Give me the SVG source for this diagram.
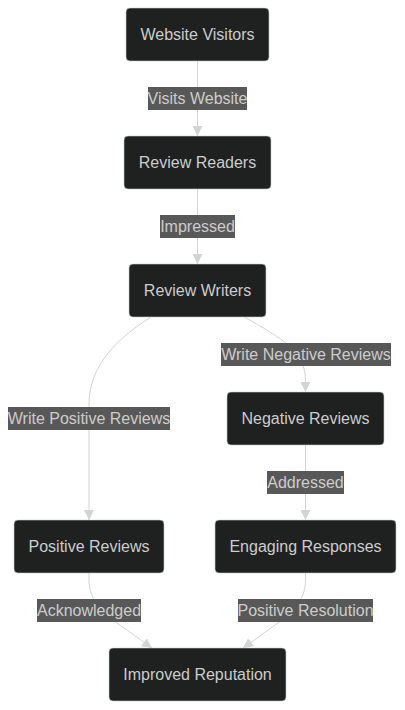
<svg xmlns="http://www.w3.org/2000/svg" width="405" height="710" viewBox="0 0 405 710">
<defs>
<style>
.node rect{fill:#1f2020;stroke:#cccccc;stroke-width:1;stroke-opacity:0.6}
.node text{fill:#cccccc;font-family:"Liberation Sans",Arial,sans-serif;font-size:16px;text-anchor:middle;dominant-baseline:central}
.edge{fill:none;stroke:#d3d3d3;stroke-width:1;marker-end:url(#arr)}
.lbl rect{fill:#585858}
.lbl text{fill:#cccccc;font-family:"Liberation Sans",Arial,sans-serif;font-size:16px;text-anchor:middle;dominant-baseline:central}
</style>
<marker id="arr" viewBox="0 0 10 10" refX="10" refY="5" markerWidth="10" markerHeight="10" markerUnits="userSpaceOnUse" orient="auto">
<path d="M0,0 L10,5 L0,10 Z" fill="#d3d3d3"/>
</marker>
</defs>
<rect width="405" height="710" fill="#ffffff"/>
<g id="connectors">
<path class="edge" d="M197.5,61 L197.5,136"/>
<path class="edge" d="M197.5,189 L197.5,264"/>
<path class="edge" d="M151,317 C110,343 89,370 89,405 L89,520"/>
<path class="edge" d="M244,317 C282,338 305.5,352 305.5,380 L305.5,392"/>
<path class="edge" d="M305.5,445 L305.5,520"/>
<path class="edge" d="M89,573 L89,580 C89,598 100,612 120,625 L152,648"/>
<path class="edge" d="M305.5,573 L305.5,580 C305.5,598 295,612 275,625 L243,648"/>
</g>
<g id="edge-labels">
<g class="lbl" id="l1"><rect x="148" y="87" width="99" height="23"/><text x="197.5" y="98.5">Visits Website</text></g>
<g class="lbl" id="l2"><rect x="160" y="215" width="75" height="23"/><text x="197.5" y="226.5">Impressed</text></g>
<g class="lbl" id="l3"><rect x="221" y="343" width="170" height="23"/><text x="306" y="354.5">Write Negative Reviews</text></g>
<g class="lbl" id="l4"><rect x="8" y="407" width="162" height="23"/><text x="89" y="418.5">Write Positive Reviews</text></g>
<g class="lbl" id="l5"><rect x="267" y="471" width="77" height="23"/><text x="305.5" y="482.5">Addressed</text></g>
<g class="lbl" id="l6"><rect x="37" y="599" width="104" height="23"/><text x="89" y="610.5">Acknowledged</text></g>
<g class="lbl" id="l7"><rect x="238" y="599" width="135" height="23"/><text x="305.5" y="610.5">Positive Resolution</text></g>
</g>
<g class="node" id="websiteVisitors"><rect x="126" y="8" width="143" height="53" rx="4"/><text x="197.5" y="34.5">Website Visitors</text></g>
<g class="node" id="reviewReaders"><rect x="124" y="136" width="147" height="53" rx="4"/><text x="197.5" y="162.5">Review Readers</text></g>
<g class="node" id="reviewWriters"><rect x="129" y="264" width="137" height="53" rx="4"/><text x="197.5" y="290.5">Review Writers</text></g>
<g class="node" id="negativeReviews"><rect x="227" y="392" width="157" height="53" rx="4"/><text x="305.5" y="418.5">Negative Reviews</text></g>
<g class="node" id="positiveReviews"><rect x="14" y="520" width="150" height="53" rx="4"/><text x="89" y="546.5">Positive Reviews</text></g>
<g class="node" id="engagingResponses"><rect x="215" y="520" width="181" height="53" rx="4"/><text x="305.5" y="546.5">Engaging Responses</text></g>
<g class="node" id="improvedReputation"><rect x="109" y="648" width="177" height="53" rx="4"/><text x="197.5" y="674.5">Improved Reputation</text></g>
</svg>
